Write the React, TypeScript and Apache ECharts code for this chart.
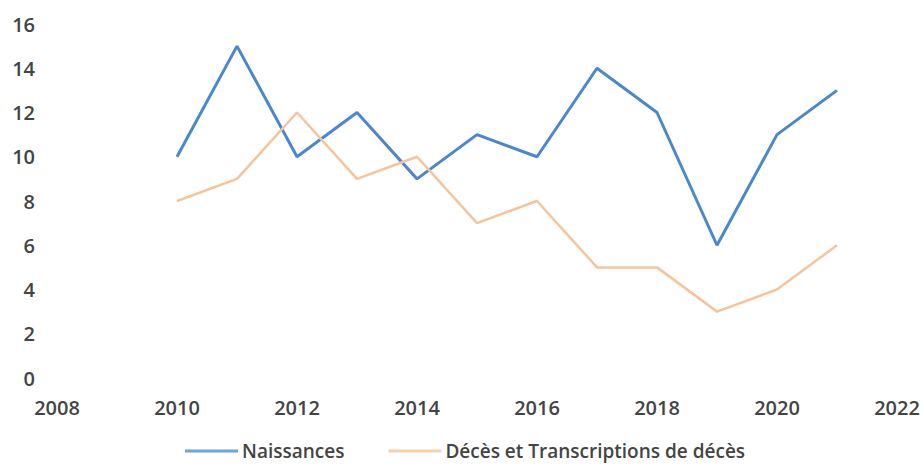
import React, { useEffect, useRef } from "react";
import * as echarts from "echarts";

const years = [2010, 2011, 2012, 2013, 2014, 2015, 2016, 2017, 2018, 2019, 2020, 2021];
const naissances = [10, 15, 10, 12, 9, 11, 10, 14, 12, 6, 11, 13];
const deces = [8, 9, 12, 9, 10, 7, 8, 5, 5, 3, 4, 6];
const seriesNames = ["Naissances", "Décès et Transcriptions de décès"];

export default function App() {
  const ref = useRef<HTMLDivElement>(null);
  useEffect(() => {
    if (!ref.current) return;
    const chart = echarts.init(ref.current, null, { renderer: "svg" });
    const font = "'Open Sans', 'Liberation Sans', sans-serif";
    chart.setOption({
      animation: false,
      backgroundColor: "#ffffff",
      grid: { left: 57, right: 26, top: 24, bottom: 90, containLabel: false },
      xAxis: {
        type: "value",
        min: 2008,
        max: 2022,
        interval: 2,
        axisLine: { show: false },
        axisTick: { show: false },
        splitLine: { show: false },
        axisLabel: {
          color: "#444",
          fontSize: 20,
          fontWeight: 600,
          fontFamily: font,
          margin: 19,
          formatter: (v: number) => String(v),
        },
      },
      yAxis: {
        type: "value",
        min: 0,
        max: 16,
        interval: 2,
        axisLine: { show: false },
        axisTick: { show: false },
        splitLine: { show: false },
        axisLabel: { color: "#444", fontSize: 20, fontWeight: 600, fontFamily: font, margin: 22 },
      },
      legend: {
        top: 440,
        left: 185,
        padding: 0,
        icon: "rect",
        itemWidth: 53,
        itemHeight: 3,
        itemGap: 44,
        textStyle: {
          color: "#444",
          fontSize: 19,
          fontWeight: 600,
          fontFamily: font,
          lineHeight: 22,
          padding: [0, 0, 0, -1],
        },
        data: seriesNames,
      },
      series: [
        {
          name: seriesNames[0],
          type: "line",
          symbol: "none",
          data: years.map((y, i) => [y, naissances[i]]),
          lineStyle: { color: "#4a87cc", width: 3 },
          itemStyle: { color: "#6fa3dc" },
        },
        {
          name: seriesNames[1],
          type: "line",
          symbol: "none",
          data: years.map((y, i) => [y, deces[i]]),
          lineStyle: { color: "#f7c39a", width: 2.5 },
          itemStyle: { color: "#f9cfa8" },
        },
      ],
    });
    return () => chart.dispose();
  }, []);
  return <div ref={ref} style={{ width: 923, height: 468, position: "fixed", left: 0, top: 0 }} />;
}
